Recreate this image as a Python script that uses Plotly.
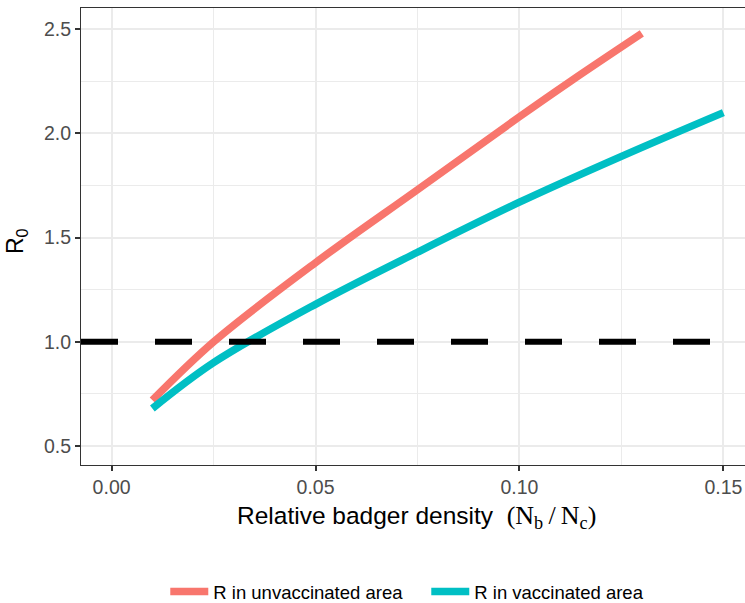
import plotly.graph_objects as go

# Data
density_unvacc = [0.01, 0.025, 0.05, 0.075, 0.10, 0.1125, 0.13]
r_unvacc = [0.72, 1.00, 1.38, 1.73, 2.08, 2.25, 2.48]

density_vacc = [0.01, 0.025, 0.05, 0.075, 0.10, 0.125, 0.15]
r_vacc = [0.68, 0.90, 1.18, 1.43, 1.67, 1.89, 2.10]

threshold = 1.0
x_range = [-0.0075, 0.1553]
y_range = [0.409, 2.602]
x_ticks = [0, 0.05, 0.10, 0.15]
x_ticklabels = ["0.00", "0.05", "0.10", "0.15"]
y_ticks = [0.5, 1.0, 1.5, 2.0, 2.5]
y_ticklabels = ["0.5", "1.0", "1.5", "2.0", "2.5"]

RED = "#F8766D"
TEAL = "#00BFC4"
FONT = "Liberation Sans, Arial, sans-serif"
SERIF = "Liberation Serif, Times New Roman, serif"

fig = go.Figure()
fig.add_trace(go.Scatter(x=density_unvacc, y=r_unvacc, mode="lines",
                         line=dict(color=RED, width=7.5, shape="spline", smoothing=1.0),
                         name="R in unvaccinated area"))
fig.add_trace(go.Scatter(x=density_vacc, y=r_vacc, mode="lines",
                         line=dict(color=TEAL, width=7.5, shape="spline", smoothing=1.0),
                         name="R in vaccinated area"))
fig.add_trace(go.Scatter(x=x_range, y=[threshold, threshold], mode="lines",
                         line=dict(color="black", width=6, dash="37px,37px"),
                         showlegend=False, hoverinfo="skip"))

fig.update_layout(
    width=745, height=603,
    margin=dict(l=81, r=0, t=8, b=138, autoexpand=False),
    plot_bgcolor="white", paper_bgcolor="white",
    font=dict(family=FONT, color="black"),
    showlegend=True,
    legend=dict(orientation="h", x=0.52, xanchor="center", y=-0.278, yanchor="middle",
                font=dict(size=18.5, color="black"), itemwidth=38, tracegroupgap=0,
                entrywidth=208, entrywidthmode="pixels"),
    annotations=[
        dict(text="Relative badger density  <span style='font-family:" + SERIF + ";font-size:26px'>(N<sub>b</sub>&#8201;/&#8201;N<sub>c</sub>)</span>",
             xref="paper", yref="paper", x=0.505, y=-0.114, xanchor="center", yanchor="middle",
             showarrow=False, font=dict(size=24.5, color="black", family=FONT)),
        dict(text="R<sub>0</sub>", textangle=-90,
             xref="paper", yref="paper", x=-0.0979, y=0.49, xanchor="center", yanchor="middle",
             showarrow=False, font=dict(size=23, color="black", family=FONT)),
    ],
)
fig.update_xaxes(
    range=x_range, tickvals=x_ticks, ticktext=x_ticklabels, automargin=False,
    showgrid=True, gridcolor="#EBEBEB", gridwidth=2,
    minor=dict(showgrid=True, tickvals=[0.025, 0.075, 0.125], gridcolor="#EBEBEB", gridwidth=1),
    showline=True, linecolor="#333333", linewidth=1, mirror=True,
    ticks="outside", ticklen=5, tickcolor="#333333", tickwidth=1.5,
    tickfont=dict(size=19.5, color="#4D4D4D"), zeroline=False,
)
fig.update_yaxes(
    range=y_range, tickvals=y_ticks, ticktext=y_ticklabels, automargin=False,
    showgrid=True, gridcolor="#EBEBEB", gridwidth=2,
    minor=dict(showgrid=True, tickvals=[0.75, 1.25, 1.75, 2.25], gridcolor="#EBEBEB", gridwidth=1),
    showline=True, linecolor="#333333", linewidth=1,
    ticks="outside", ticklen=5, tickcolor="#333333", tickwidth=1.5,
    tickfont=dict(size=19.5, color="#4D4D4D"), zeroline=False,
)

fig.write_html("out.html")
